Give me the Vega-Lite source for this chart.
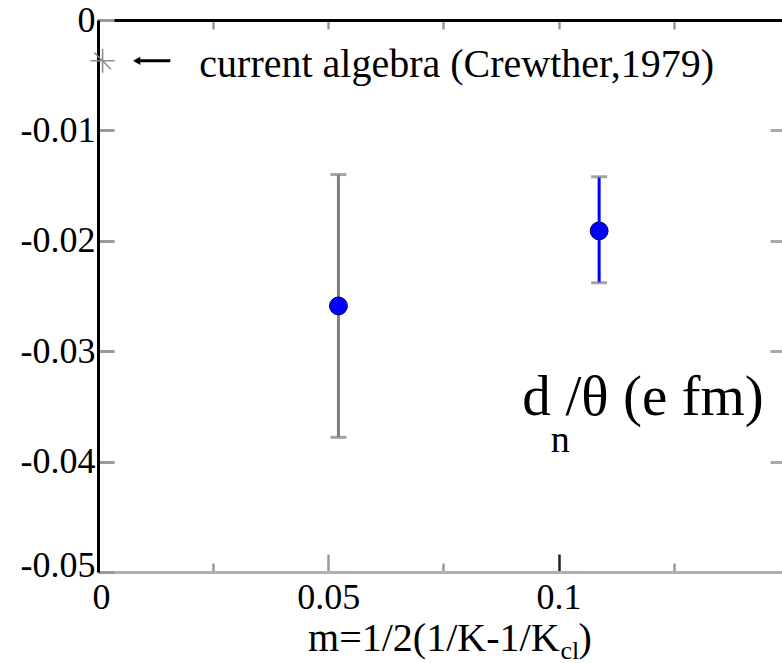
{
  "$schema": "https://vega.github.io/schema/vega-lite/v6.json",
  "width": 684,
  "height": 552,
  "autosize": {"type": "none"},
  "padding": {"left": 98, "top": 20, "right": 0, "bottom": 91},
  "background": "white",
  "config": {
    "view": {"stroke": null},
    "font": "Liberation Serif",
    "axis": {"grid": false, "labelFont": "Liberation Serif", "labelColor": "black", "title": null}
  },
  "datasets": {
    "pts": [
      {"m": 0.0522, "d": -0.0259, "lo": -0.0378, "hi": -0.0140, "set": "A"},
      {"m": 0.1088, "d": -0.0191, "lo": -0.0238, "hi": -0.0142, "set": "B"}
    ],
    "star": [{"m": 0.001, "d": -0.0037}],
    "one": [{}]
  },
  "resolve": {"axis": {"x": "independent", "y": "independent"}},
  "layer": [
    {
      "data": {"name": "pts"},
      "mark": {"type": "rule", "strokeWidth": 3},
      "encoding": {
        "x": {
          "field": "m", "type": "quantitative",
          "scale": {"domain": [0, 0.1485], "nice": false, "zero": false},
          "axis": {
            "orient": "bottom",
            "values": [0, 0.025, 0.05, 0.075, 0.1, 0.125],
            "labelExpr": "datum.value == 0 ? '0' : datum.value == 0.05 ? '0.05' : datum.value == 0.1 ? '0.1' : ''",
            "labelFontSize": 36,
            "labelFlush": false,
            "labelPadding": 26,
            "labelOffset": {"condition": {"test": "datum.value == 0", "value": 3}, "value": 0},
            "domainColor": "#b0b0b0",
            "domainWidth": 3,
            "tickSize": {"condition": {"test": "datum.value == 0 || datum.value == 0.05 || datum.value == 0.1", "value": -18}, "value": -9},
            "tickColor": {"condition": {"test": "datum.value == 0.1", "value": "#222222"}, "value": "#999999"},
            "tickWidth": 2.5
          }
        },
        "y": {
          "field": "lo", "type": "quantitative",
          "scale": {"domain": [-0.05, 0], "nice": false, "zero": false},
          "axis": {
            "orient": "left",
            "values": [0, -0.01, -0.02, -0.03, -0.04, -0.05],
            "labelExpr": "datum.value == 0 ? '0' : '-' + format(-datum.value, '.2f')",
            "labelFontSize": 36,
            "labelFlush": false,
            "labelPadding": 19,
            "labelOffset": {"condition": {"test": "datum.value == -0.05", "value": -7}, "value": 0},
            "domainColor": "#000000",
            "domainWidth": 3,
            "tickSize": -16,
            "tickColor": "#999999",
            "tickWidth": 3
          }
        },
        "y2": {"field": "hi"},
        "color": {"field": "set", "type": "nominal", "scale": {"domain": ["A", "B"], "range": ["#7f7f7f", "#0000ff"]}, "legend": null},
        "strokeWidth": {"field": "set", "type": "nominal", "scale": {"domain": ["A", "B"], "range": [3, 2]}, "legend": null}
      }
    },
    {
      "data": {"name": "pts"},
      "mark": {"type": "tick", "orient": "horizontal", "color": "#7f7f7f", "size": 16, "thickness": 3},
      "encoding": {
        "x": {
          "field": "m", "type": "quantitative",
          "axis": {
            "orient": "top",
            "values": [0.025, 0.05, 0.075, 0.1, 0.125],
            "labels": false,
            "domainColor": "#000000",
            "domainWidth": 3,
            "tickSize": -9,
            "tickColor": "#999999",
            "tickWidth": 2.5
          }
        },
        "y": {
          "field": "lo", "type": "quantitative",
          "axis": {
            "orient": "right",
            "values": [-0.01, -0.02, -0.03, -0.04],
            "labels": false,
            "domain": false,
            "tickSize": -12,
            "tickColor": "#aaaaaa",
            "tickWidth": 3
          }
        }
      }
    },
    {
      "data": {"name": "pts"},
      "mark": {"type": "tick", "orient": "horizontal", "color": "#7f7f7f", "size": 16, "thickness": 3},
      "encoding": {
        "x": {"field": "m", "type": "quantitative", "axis": null},
        "y": {"field": "hi", "type": "quantitative", "axis": null}
      }
    },
    {
      "data": {"name": "pts"},
      "mark": {"type": "point", "filled": true, "fill": "#0000ff", "stroke": "#00005a", "strokeWidth": 1, "opacity": 1, "size": 320},
      "encoding": {
        "x": {"field": "m", "type": "quantitative", "axis": null},
        "y": {"field": "d", "type": "quantitative", "axis": null}
      }
    },
    {
      "data": {"name": "star"},
      "mark": {"type": "point", "shape": "M-1,0L1,0M0,-1L0,1M-0.7,-0.7L0.7,0.7", "filled": false, "stroke": "#8c8c8c", "strokeWidth": 1.5, "opacity": 1, "size": 576},
      "encoding": {
        "x": {"field": "m", "type": "quantitative", "axis": null},
        "y": {"field": "d", "type": "quantitative", "axis": null}
      }
    },
    {
      "data": {"name": "one"},
      "mark": {"type": "rule", "color": "#000000", "strokeWidth": 3},
      "encoding": {
        "x": {"datum": 0.0082, "type": "quantitative", "axis": null},
        "x2": {"datum": 0.0157},
        "y": {"datum": -0.0037, "type": "quantitative", "axis": null}
      }
    },
    {
      "data": {"name": "one"},
      "mark": {"type": "point", "shape": "triangle-left", "filled": true, "color": "#000000", "opacity": 1, "size": 70},
      "encoding": {
        "x": {"datum": 0.0084, "type": "quantitative", "axis": null},
        "y": {"datum": -0.0037, "type": "quantitative", "axis": null}
      }
    },
    {
      "data": {"name": "one"},
      "mark": {"type": "text", "align": "left", "baseline": "middle", "fontSize": 40, "font": "Liberation Serif", "color": "#000000"},
      "encoding": {
        "x": {"datum": 0.022, "type": "quantitative", "axis": null},
        "y": {"datum": -0.0041, "type": "quantitative", "axis": null},
        "text": {"value": "current algebra (Crewther,1979)"}
      }
    },
    {
      "data": {"name": "one"},
      "mark": {"type": "text", "align": "left", "baseline": "alphabetic", "fontSize": 57, "font": "Liberation Serif", "color": "#000000"},
      "encoding": {
        "x": {"datum": 0.0921, "type": "quantitative", "axis": null},
        "y": {"datum": -0.0358, "type": "quantitative", "axis": null},
        "text": {"value": "d"}
      }
    },
    {
      "data": {"name": "one"},
      "mark": {"type": "text", "align": "left", "baseline": "alphabetic", "fontSize": 38, "font": "Liberation Serif", "color": "#000000"},
      "encoding": {
        "x": {"datum": 0.0983, "type": "quantitative", "axis": null},
        "y": {"datum": -0.0391, "type": "quantitative", "axis": null},
        "text": {"value": "n"}
      }
    },
    {
      "data": {"name": "one"},
      "mark": {"type": "text", "align": "left", "baseline": "alphabetic", "fontSize": 57, "font": "Liberation Serif", "color": "#000000"},
      "encoding": {
        "x": {"datum": 0.1015, "type": "quantitative", "axis": null},
        "y": {"datum": -0.0358, "type": "quantitative", "axis": null},
        "text": {"value": "/θ (e fm)"}
      }
    },
    {
      "data": {"name": "one"},
      "mark": {"type": "text", "align": "right", "baseline": "alphabetic", "fontSize": 40, "font": "Liberation Serif", "color": "#000000"},
      "encoding": {
        "x": {"datum": 0.1002, "type": "quantitative", "axis": null},
        "y": {"datum": -0.0572, "type": "quantitative", "axis": null},
        "text": {"value": "m=1/2(1/K-1/K"}
      }
    },
    {
      "data": {"name": "one"},
      "mark": {"type": "text", "align": "left", "baseline": "alphabetic", "fontSize": 26, "font": "Liberation Serif", "color": "#000000"},
      "encoding": {
        "x": {"datum": 0.1004, "type": "quantitative", "axis": null},
        "y": {"datum": -0.0579, "type": "quantitative", "axis": null},
        "text": {"value": "cl"}
      }
    },
    {
      "data": {"name": "one"},
      "mark": {"type": "text", "align": "left", "baseline": "alphabetic", "fontSize": 40, "font": "Liberation Serif", "color": "#000000"},
      "encoding": {
        "x": {"datum": 0.1043, "type": "quantitative", "axis": null},
        "y": {"datum": -0.0572, "type": "quantitative", "axis": null},
        "text": {"value": ")"}
      }
    }
  ]
}
